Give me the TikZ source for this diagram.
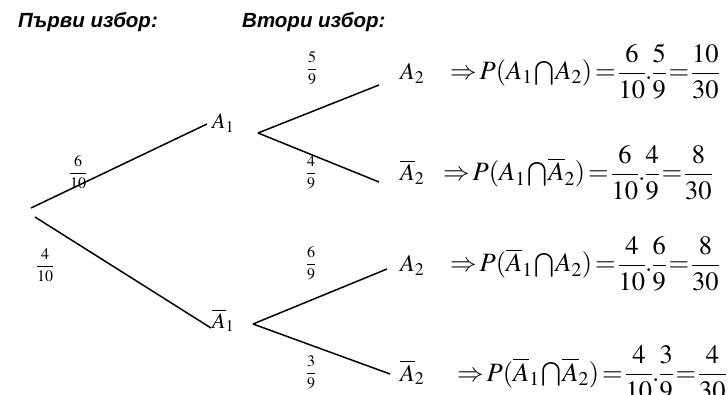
\documentclass[tikz,border=0pt]{standalone}
\usepackage{amsmath}
\usepackage{mathptmx}
\usepackage[no-math]{fontspec}
\setmainfont{Liberation Serif}
\newfontfamily\hdrfont{Liberation Sans}
\begin{document}
\begin{tikzpicture}[x=1pt,y=-1pt,
  branch/.style={line width=1.5pt},
  hdr/.style={anchor=base west,inner sep=0pt,font=\hdrfont\bfseries\itshape\fontsize{20.5}{24}\selectfont},
  prob/.style={inner sep=0pt,font=\fontsize{16}{18}\selectfont},
  ev/.style={inner sep=0pt,anchor=base west,font=\fontsize{24}{28}\selectfont},
  eq/.style={inner sep=0pt,anchor=base west,font=\fontsize{26.5}{30}\selectfont},
]
\useasboundingbox (0,0) rectangle (728,395);
% headers
\node[hdr] (h1) at (18,28) {Първи избор:};
\node[hdr] (h2) at (242,28) {Втори избор:};
% first level
\coordinate (r1) at (31,208);
\coordinate (r2) at (35,217);
\coordinate (e1) at (207,124);
\coordinate (e2) at (211,328);
\node[ev,font=\fontsize{22}{26}\selectfont] (a1) at (212,129) {$A_1$};
\node[ev,font=\fontsize{22}{26}\selectfont] (na1) at (212,328) {$\overline{A}_1$};
\draw[branch] (r1) -- (e1);
\draw[branch] (r2) -- (e2);
\node[prob] (p1) at (78,172) {$\dfrac{6}{10}$};
\node[prob] (p2) at (45,265) {$\dfrac{4}{10}$};
% second level, upper
\coordinate (v1) at (258,133);
\coordinate (u1) at (379,85);
\coordinate (u2) at (379,182);
\draw[branch] (v1) -- (u1);
\draw[branch] (v1) -- (u2);
\node[prob] (p3) at (312,68) {$\dfrac{5}{9}$};
\node[prob] (p4) at (311,172) {$\dfrac{4}{9}$};
% second level, lower
\coordinate (v2) at (253,324);
\coordinate (u3) at (387,269);
\coordinate (u4) at (390,374);
\draw[branch] (v2) -- (u3);
\draw[branch] (v2) -- (u4);
\node[prob] (p5) at (311,263) {$\dfrac{6}{9}$};
\node[prob] (p6) at (311,372) {$\dfrac{3}{9}$};
% outcomes
\node[ev] (b1) at (400,80) {$A_2$};
\node[ev] (b2) at (400,181) {$\overline{A}_2$};
\node[ev] (b3) at (400,272) {$A_2$};
\node[ev] (b4) at (400,381) {$\overline{A}_2$};
\node[eq] (q1) at (450,80) {$\nulldelimiterspace=0pt\medmuskip=1mu\thickmuskip=2mu\Rightarrow P(A_1\mathbin{\textstyle\bigcap}A_2)=\dfrac{6}{10}.\dfrac{5}{9}=\dfrac{10}{30}$};
\node[eq] (q2) at (443,181) {$\nulldelimiterspace=0pt\medmuskip=1mu\thickmuskip=2mu\Rightarrow P(A_1\mathbin{\textstyle\bigcap}\overline{A}_2)=\dfrac{6}{10}.\dfrac{4}{9}=\dfrac{8}{30}$};
\node[eq] (q3) at (450,272) {$\nulldelimiterspace=0pt\medmuskip=1mu\thickmuskip=2mu\Rightarrow P(\overline{A}_1\mathbin{\textstyle\bigcap}A_2)=\dfrac{4}{10}.\dfrac{6}{9}=\dfrac{8}{30}$};
\node[eq] (q4) at (457,381) {$\nulldelimiterspace=0pt\medmuskip=1mu\thickmuskip=2mu\Rightarrow P(\overline{A}_1\mathbin{\textstyle\bigcap}\overline{A}_2)=\dfrac{4}{10}.\dfrac{3}{9}=\dfrac{4}{30}$};
\end{tikzpicture}
\end{document}
